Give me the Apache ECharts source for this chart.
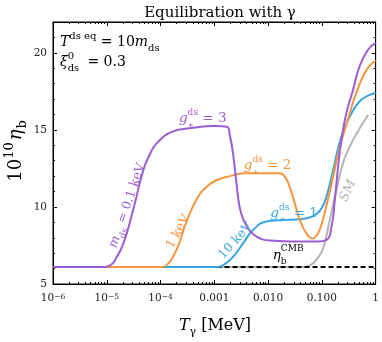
<!DOCTYPE html>
<html>
<head>
<meta charset="utf-8">
<script src="https://cdn.jsdelivr.net/npm/echarts@6/dist/echarts.min.js"></script>
<style>
  html, body { margin: 0; padding: 0; background: #fff; }
  #chart { width: 382px; height: 342px; }
</style>
</head>
<body>
<div id="chart"></div>
<script>
// ---- data ----
const xMajorTicks = [1e-6, 1e-5, 1e-4, 1e-3, 1e-2, 1e-1, 1];
const xTickLabels = ['{n|10}{e|−6}', '{n|10}{e|−5}', '{n|10}{e|−4}', '{n|0.001}', '{n|0.010}', '{n|0.100}', '{n|1}'];
const yMajorTicks = [5, 10, 15, 20];
const yMinorTicks = [6, 7, 8, 9, 11, 12, 13, 14, 16, 17, 18, 19, 21];

// m_ds = 0.1 keV
const tPurple = [1e-6, 8e-6, 1.2e-5, 1.5e-5, 2.04e-5, 3.09e-5, 4.79e-5, 6.3e-5, 8.5e-5, 1.7e-4, 3.47e-4, 1e-3, 1.7e-3, 1.95e-3, 2.24e-3, 2.57e-3, 2.95e-3, 3.55e-3, 4.47e-3, 6.3e-3, 0.0107, 0.02, 0.039, 0.08, 0.12, 0.151, 0.174, 0.2, 0.23, 0.285, 0.38, 0.5, 0.72, 1];
const etaPurple = [6.1, 6.1, 6.25, 6.7, 7.64, 9.8, 12.4, 13.4, 14.14, 14.9, 15.1, 15.25, 15.2, 14.6, 13.4, 11.6, 10.0, 9.1, 8.5, 8.05, 7.82, 7.78, 7.75, 7.76, 7.85, 8.72, 10.45, 12.6, 14.3, 16.08, 17.6, 19.1, 20.2, 20.65];
// m_ds = 1 keV
const tOrange = [1e-6, 1.0e-4, 1.41e-4, 1.78e-4, 2.2e-4, 3.0e-4, 4.7e-4, 7.1e-4, 1.12e-3, 1.95e-3, 4e-3, 0.0166, 0.02, 0.024, 0.0288, 0.039, 0.0513, 0.0668, 0.08, 0.095, 0.12, 0.162, 0.209, 0.331, 0.436, 0.676, 1];
const etaOrange = [6.1, 6.1, 6.35, 6.9, 7.6, 9.0, 10.5, 11.3, 11.75, 12.0, 12.19, 12.19, 12.0, 11.5, 10.67, 9.16, 8.3, 7.95, 8.15, 8.7, 10.0, 11.97, 13.7, 16.08, 17.4, 18.9, 19.5];
// m_ds = 10 keV
const tBlue = [1e-6, 1.1e-3, 1.58e-3, 2.24e-3, 3.43e-3, 5.25e-3, 9.3e-3, 0.019, 0.04, 0.063, 0.08, 0.1, 0.12, 0.162, 0.2, 0.25, 0.331, 0.5, 0.776, 1];
const etaBlue = [6.1, 6.1, 6.3, 6.77, 7.64, 8.5, 9.05, 9.15, 9.2, 9.35, 9.55, 9.95, 10.6, 12.4, 13.8, 14.9, 15.86, 16.84, 17.27, 17.4];
// Standard Model
const tSM = [1e-6, 0.045, 0.063, 0.08, 0.105, 0.14, 0.186, 0.247, 0.309, 0.38, 0.525, 0.724];
const etaSM = [6.1, 6.1, 6.25, 6.6, 7.3, 9.16, 11.1, 12.84, 13.7, 14.35, 15.2, 15.97];
// eta_b from CMB
const tCMB = [1.1e-3, 1];
const etaCMB = [6.1, 6.1];

const SERIF = "'DejaVu Serif', 'Liberation Serif', serif";
const C = { purple: '#9b5cd6', orange: '#f7953e', blue: '#3ba7de', gray: '#b4b4b4', black: '#000' };

const zip = (a, b) => a.map((v, i) => [v, b[i]]);

function richSet(color, size) {
  const L = size + 8;
  const s = Math.round(size * 0.7);
  const base = { fontSize: size, fontFamily: SERIF, fill: color, color: color, lineHeight: L };
  return {
    r: base,
    i: Object.assign({}, base, { fontStyle: 'italic' }),
    ip: Object.assign({}, base, { fontStyle: 'italic', padding: [0, 1, 0, 2] }),
    up: { fontSize: s, fontFamily: SERIF, fill: color, color: color, lineHeight: L - 10, verticalAlign: 'top' },
    dn: { fontSize: s, fontFamily: SERIF, fill: color, color: color, lineHeight: L - 8, verticalAlign: 'bottom' },
    dnz: { fontSize: s, fontFamily: SERIF, fill: color, color: color, lineHeight: L - 8, verticalAlign: 'bottom', width: 0.01 }
  };
}

const chart = echarts.init(document.getElementById('chart'), null, { renderer: 'canvas' });

function line(name, t, eta, color, extra) {
  return Object.assign({
    name, type: 'line', xAxisIndex: 0, yAxisIndex: 0,
    data: zip(t, eta), showSymbol: false, smooth: 0.5,
    lineStyle: { color, width: 2 }, itemStyle: { color }, animation: false
  }, extra || {});
}

const xMinorTicks = [];
for (let d = -6; d < 0; d++) for (let k = 2; k <= 9; k++) xMinorTicks.push(k * Math.pow(10, d));

const logAxis = (pos, ticks, len, labels, lineOn) => ({
  type: 'log', logBase: 10, min: 1e-6, max: 1, position: pos, gridIndex: 0,
  axisLine: { show: lineOn, onZero: false, lineStyle: { color: '#000', width: 1 } },
  axisTick: { show: true, inside: true, length: len, customValues: ticks, lineStyle: { color: '#000', width: 1 } },
  axisLabel: labels ? {
    customValues: xMajorTicks, margin: 9,
    formatter: v => xTickLabels[Math.round(Math.log10(v)) + 6],
    rich: { n: { fontSize: 10.5, fontFamily: SERIF, color: '#222' }, e: { fontSize: 7.5, fontFamily: SERIF, color: '#222', verticalAlign: 'top', lineHeight: 7 } }
  } : { show: false },
  splitLine: { show: false }, minorTick: { show: false }
});
const valAxis = (pos, ticks, len, labels, lineOn) => ({
  type: 'value', min: 5, max: 22, position: pos, gridIndex: 0,
  axisLine: { show: lineOn, onZero: false, lineStyle: { color: '#000', width: 1 } },
  axisTick: { show: true, inside: true, length: len, customValues: ticks, lineStyle: { color: '#000', width: 1 } },
  axisLabel: labels ? { customValues: yMajorTicks, margin: 6, fontSize: 10.5, fontFamily: SERIF, color: '#222' } : { show: false },
  splitLine: { show: false }
});

chart.setOption({
  animation: false,
  backgroundColor: '#fff',
  title: {
    text: 'Equilibration with γ', left: 215, top: 1, textAlign: 'center',
    textStyle: { fontSize: 15, fontWeight: 'normal', fontFamily: SERIF, color: '#000' }
  },
  grid: { left: 53, right: 6, top: 22, bottom: 58, show: true, borderColor: '#000', borderWidth: 1, backgroundColor: 'transparent' },
  xAxis: [
    logAxis('bottom', xMajorTicks, 4, true, true),
    logAxis('bottom', xMinorTicks, 2, false, false),
    logAxis('top', xMajorTicks, 4, false, true),
    logAxis('top', xMinorTicks, 2, false, false)
  ],
  yAxis: [
    valAxis('left', yMajorTicks, 4, true, true),
    valAxis('left', yMinorTicks, 2, false, false),
    valAxis('right', yMajorTicks, 4, false, true),
    valAxis('right', yMinorTicks, 2, false, false)
  ],
  series: [
    line('SM', tSM, etaSM, C.gray),
    line('CMB', tCMB, etaCMB, C.black, { smooth: false, lineStyle: { color: '#000', width: 2, type: [5, 3] } }),
    line('10 keV', tBlue, etaBlue, C.blue),
    line('1 keV', tOrange, etaOrange, C.orange),
    line('0.1 keV', tPurple, etaPurple, C.purple)
  ]
});

// ---- annotations, anchored in data space ----
const notes = [
  { at: [1.35e-6, 20.65], color: C.black, size: 14, align: 'left', text: '{i|T}{up|ds eq}{r| = 10}{i|m}{dn|ds}' },
  { at: [1.35e-6, 19.35], color: C.black, size: 14, align: 'left', text: '{i|ξ}{dnz|ds}{up|0}{r|   = 0.3}' },
  { at: [2.2e-4, 15.71], color: C.purple, size: 13.5, align: 'left', text: '{i|g}{dnz|∗}{up|ds}{r| = 3}' },
  { at: [3.53e-3, 12.66], color: C.orange, size: 13.5, align: 'left', text: '{i|g}{dnz|∗}{up|ds}{r| = 2}' },
  { at: [0.011, 9.55], color: C.blue, size: 13.5, align: 'left', text: '{i|g}{dnz|∗}{up|ds}{r| = 1}' },
  { at: [0.0122, 6.88], color: C.black, size: 13.5, align: 'left', text: '{i|η}{dnz|b}{up|CMB}' },
  { at: [0.306, 11.06], color: C.gray, size: 13, align: 'center', rot: 66, text: '{i|SM}' },
  { at: [2.42e-5, 10.08], color: C.purple, size: 12.5, align: 'center', rot: 71, text: '{i|m}{dn|ds}{r| = 0.1 keV}' },
  { at: [2.13e-4, 8.40], color: C.orange, size: 12.5, align: 'center', rot: 61, text: '{r|1 keV}' },
  { at: [2.49e-3, 7.81], color: C.blue, size: 12.5, align: 'center', rot: 48, text: '{r|10 keV}' }
];

const graphics = notes.map(n => {
  const p = chart.convertToPixel({ xAxisIndex: 0, yAxisIndex: 0 }, n.at);
  return {
    type: 'text', x: p[0], y: p[1], rotation: (n.rot || 0) * Math.PI / 180, z: 100,
    style: { text: n.text, rich: richSet(n.color, n.size), fill: n.color, align: n.align, verticalAlign: 'middle' }
  };
});

graphics.push({
  type: 'text', x: 215, y: 326, z: 100,
  style: { text: '{i|T}{dn|γ}{r| [MeV]}', rich: richSet('#000', 16), align: 'center', verticalAlign: 'middle' }
});
graphics.push({
  type: 'text', x: 16, y: 151, rotation: Math.PI / 2, z: 100,
  style: { text: '{r|10}{up|10}{ip|η}{dn|b}', rich: richSet('#000', 18), align: 'center', verticalAlign: 'middle' }
});

chart.setOption({ graphic: graphics });
</script>
</body>
</html>
